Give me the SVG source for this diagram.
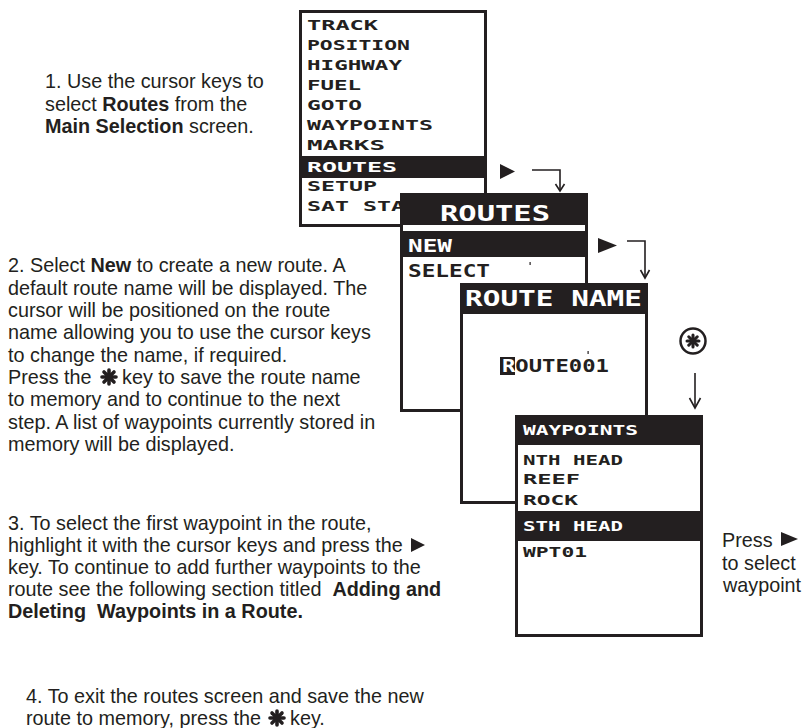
<svg xmlns="http://www.w3.org/2000/svg" width="804" height="728" viewBox="0 0 804 728">
<style>
.t{font-family:"Liberation Sans",Arial,sans-serif;font-size:19.8px;fill:#231f20}
.b{font-weight:bold}
.lcd{font-family:"DejaVu Sans Mono","Liberation Mono",monospace;font-weight:bold;font-size:14px;fill:#231f20}
.lcdm{font-family:"DejaVu Sans Mono","Liberation Mono",monospace;font-weight:bold;font-size:17px;fill:#231f20}
.lcdl{font-family:"DejaVu Sans Mono","Liberation Mono",monospace;font-weight:bold;font-size:22px;fill:#fff}
.w{fill:#fff}
.scr{fill:#fff;stroke:#231f20;stroke-width:3}
.bar{fill:#231f20}
.ln{fill:none;stroke:#231f20;stroke-width:1.6}
.tri{fill:#231f20}
</style>
<defs>
<g id="star" stroke="#231f20" stroke-width="3.6" stroke-linecap="round">
<line x1="0" y1="-7" x2="0" y2="7"/>
<line x1="-7" y1="0" x2="7" y2="0"/>
<line x1="-5" y1="-5" x2="5" y2="5"/>
<line x1="-5" y1="5" x2="5" y2="-5"/>
<circle r="3.5" fill="#231f20" stroke="none"/>
</g>
</defs>

<g id="text1">
<text class="t" x="45" y="88">1. Use the cursor keys to</text>
<text class="t" x="45" y="110.5">select <tspan class="b">Routes</tspan> from the</text>
<text class="t" x="45" y="133"><tspan class="b">Main Selection</tspan> screen.</text>
</g>

<g id="text2">
<text class="t" x="8" y="272">2. Select <tspan class="b">New</tspan> to create a new route. A</text>
<text class="t" x="8" y="294.5">default route name will be displayed. The</text>
<text class="t" x="8" y="317">cursor will be positioned on the route</text>
<text class="t" x="8" y="339">name allowing you to use the cursor keys</text>
<text class="t" x="8" y="361.5">to change the name, if required.</text>
<text class="t" x="8" y="384">Press the</text>
<use href="#star" x="109" y="377"/>
<text class="t" x="122" y="384">key to save the route name</text>
<text class="t" x="8" y="406">to memory and to continue to the next</text>
<text class="t" x="8" y="428.5">step. A list of waypoints currently stored in</text>
<text class="t" x="8" y="451">memory will be displayed.</text>
</g>

<g id="text3">
<text class="t" x="8" y="530">3. To select the first waypoint in the route,</text>
<text class="t" x="8" y="552">highlight it with the cursor keys and press the</text>
<polygon class="tri" points="411,538 411,552 425,545"/>
<text class="t" x="8" y="573.5">key. To continue to add further waypoints to the</text>
<text class="t" x="8" y="595.5" xml:space="preserve">route see the following section titled  <tspan class="b">Adding and</tspan></text>
<text class="t b" x="8" y="617.5" xml:space="preserve">Deleting  Waypoints in a Route.</text>
</g>

<g id="text4">
<text class="t" x="26" y="703">4. To exit the routes screen and save the new</text>
<text class="t" x="26" y="725">route to memory, press the</text>
<use href="#star" x="277" y="718"/>
<text class="t" x="290" y="725">key.</text>
</g>

<g id="text5">
<text class="t" x="722" y="547">Press</text>
<polygon class="tri" points="781,532 781,546 798,539"/>
<text class="t" x="722" y="570">to select</text>
<text class="t" x="723" y="592">waypoint</text>
</g>

<g id="menu">
<rect class="scr" x="300.5" y="11.5" width="185" height="214"/>
<rect class="bar" x="300" y="156" width="186" height="22"/>
<text class="lcd" x="307" y="30" textLength="71" lengthAdjust="spacingAndGlyphs">TRACK</text>
<text class="lcd" x="307" y="50" textLength="103" lengthAdjust="spacingAndGlyphs">POSITION</text>
<text class="lcd" x="307" y="70" textLength="95" lengthAdjust="spacingAndGlyphs">HIGHWAY</text>
<text class="lcd" x="307" y="90" textLength="54" lengthAdjust="spacingAndGlyphs">FUEL</text>
<text class="lcd" x="307" y="110" textLength="55" lengthAdjust="spacingAndGlyphs">GOTO</text>
<text class="lcd" x="307" y="130" textLength="126" lengthAdjust="spacingAndGlyphs">WAYPOINTS</text>
<text class="lcd" x="307" y="150" textLength="78" lengthAdjust="spacingAndGlyphs">MARKS</text>
<text class="lcd w" x="307" y="171.5" textLength="90" lengthAdjust="spacingAndGlyphs">ROUTES</text>
<text class="lcd" x="307" y="191" textLength="70" lengthAdjust="spacingAndGlyphs">SETUP</text>
<text class="lcd" x="307" y="211" textLength="98" lengthAdjust="spacingAndGlyphs">SAT STA</text>
</g>

<g id="routes">
<rect class="scr" x="401.5" y="194.5" width="185" height="216"/>
<rect class="bar" x="400" y="193" width="188" height="32"/>
<rect class="bar" x="400" y="231" width="188" height="26"/>
<text class="lcdl" x="440" y="221" textLength="110" lengthAdjust="spacingAndGlyphs">ROUTES</text>
<text class="lcdm w" x="408" y="252" textLength="44" lengthAdjust="spacingAndGlyphs">NEW</text>
<text class="lcdm" x="408" y="277" textLength="82" lengthAdjust="spacingAndGlyphs">SELECT</text>
<rect class="bar" x="529.5" y="262" width="1.2" height="3"/>
</g>

<g id="route-name">
<rect class="scr" x="461.5" y="284.5" width="185" height="218"/>
<rect class="bar" x="460" y="283" width="188" height="31"/>
<text class="lcdl" x="465" y="306" textLength="177" lengthAdjust="spacingAndGlyphs">ROUTE NAME</text>
<rect class="bar" x="500" y="357" width="15" height="18"/>
<text class="lcdm" x="502" y="372" textLength="107" lengthAdjust="spacingAndGlyphs"><tspan class="w">R</tspan>OUTE001</text>
<rect class="bar" x="587.5" y="351" width="1.2" height="3"/>
</g>

<g id="waypoints">
<rect class="scr" x="516.5" y="416.5" width="185" height="219"/>
<rect class="bar" x="515" y="415" width="188" height="30"/>
<text class="lcd w" x="523" y="435" textLength="115" lengthAdjust="spacingAndGlyphs">WAYPOINTS</text>
<text class="lcd" x="523" y="465" textLength="100" lengthAdjust="spacingAndGlyphs">NTH HEAD</text>
<text class="lcd" x="523" y="484" textLength="57" lengthAdjust="spacingAndGlyphs">REEF</text>
<text class="lcd" x="523" y="505" textLength="55" lengthAdjust="spacingAndGlyphs">ROCK</text>
<rect class="bar" x="516" y="511" width="186" height="30"/>
<text class="lcd w" x="523" y="531" textLength="100" lengthAdjust="spacingAndGlyphs">STH HEAD</text>
<text class="lcd" x="523" y="557" textLength="64" lengthAdjust="spacingAndGlyphs">WPT01</text>
</g>

<g id="connectors">
<polygon class="tri" points="500,164 500,179 515,171.5"/>
<path class="ln" d="M532,170 H560 V190"/>
<path class="ln" d="M555.5,184 L560,191 L564.5,184"/>
<polygon class="tri" points="598,238 598,253 617,245.5"/>
<path class="ln" d="M627,241 H645 V277"/>
<path class="ln" d="M640.5,270 L645,278 L649.5,270"/>
<circle cx="693" cy="341" r="12.5" fill="#fff" stroke="#231f20" stroke-width="2.5"/>
<use href="#star" x="693" y="341" transform="translate(693 341) scale(0.85) translate(-693 -341)"/>
<path class="ln" d="M695,373 V407"/>
<path class="ln" d="M689.5,398 L695,408 L700.5,398"/>
</g>
</svg>
